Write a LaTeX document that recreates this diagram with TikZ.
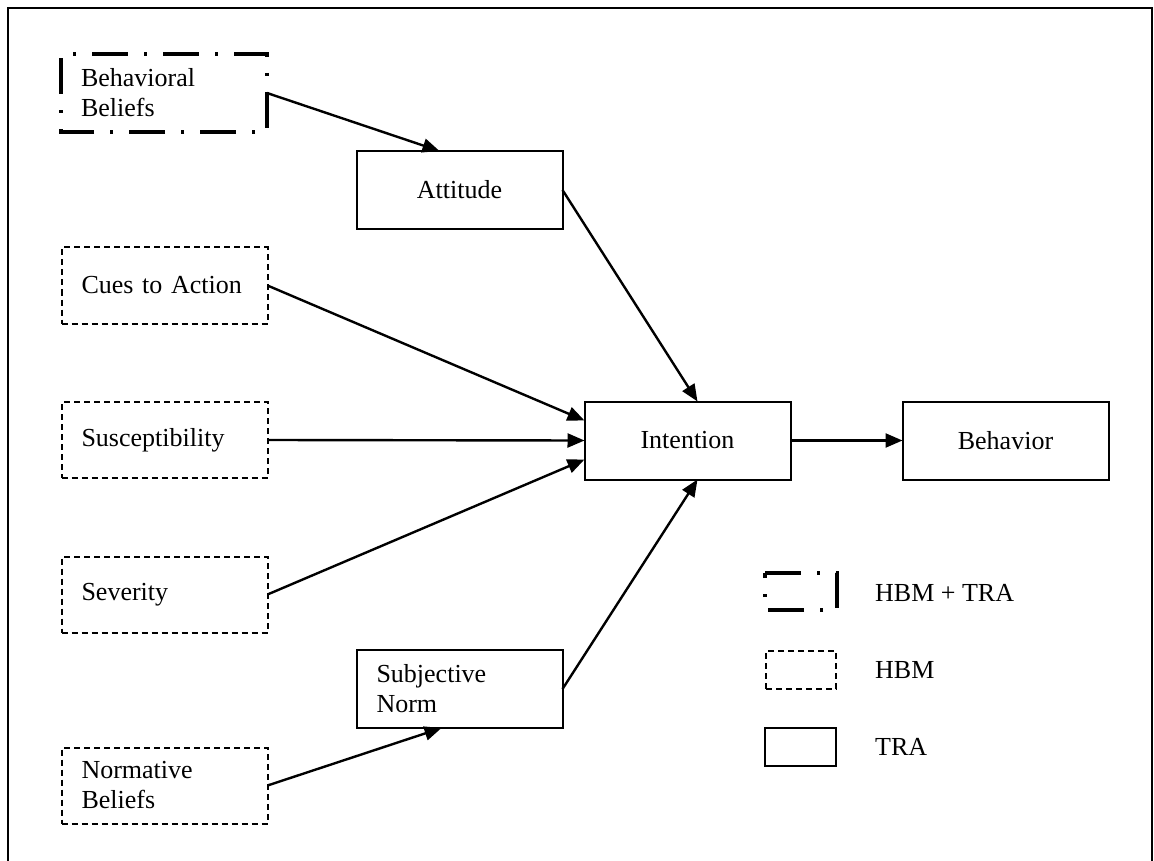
\documentclass[tikz,border=0pt]{standalone}
\usepackage{fontspec}
\setmainfont{Liberation Serif}
\usetikzlibrary{arrows.meta,calc}

\begin{document}
\begin{tikzpicture}[x=1pt,y=-1pt,
  every node/.style={font=\fontsize{26}{30}\selectfont},
  box/.style={rectangle, minimum width=206pt, minimum height=78pt, inner sep=0pt, outer sep=0pt},
  tra/.style={box, draw, line width=2pt},
  hbm/.style={box, draw, line width=2pt, dash pattern=on 6pt off 4pt, minimum height=76pt},
  hbmtra/.style={line width=4pt, dash pattern=on 36pt off 16pt on 3pt off 16pt},
  lefttext/.style={align=left, text width=166pt},
  ctrtext/.style={align=center},
  legendtext/.style={anchor=west, inner sep=0pt},
  link/.style={line width=2.4pt, -{Triangle[length=17pt,width=14pt]}},
]
\useasboundingbox (0,0) rectangle (1154,861);
\clip (0,0) rectangle (1154,861);

% outer frame, open at the bottom edge of the page
\draw[line width=2.5pt] (8,880) -- (8,8) -- (1152,8) -- (1152,880);

% constructs shared by HBM and TRA
\node[box, lefttext] (bb) at (164,93) {Behavioral\\Beliefs};
\draw[hbmtra, dash phase=40pt] (bb.north west) -- (bb.north east) -- (bb.south east) -- (bb.south west) -- cycle;

% TRA constructs
\node[tra, ctrtext] (att) at (459.5,190) {Attitude};
\node[tra, lefttext] (sn) at (459.5,689) {Subjective\\Norm};
\node[tra, ctrtext] (int) at (687.5,440.5) {Intention};
\node[tra, ctrtext] (beh) at (1005.5,440.5) {Behavior};

% HBM constructs
\node[hbm, lefttext] (cues) at (164.5,285.5) {Cues to Action};
\node[hbm, lefttext] (sus) at (164.5,440) {Susceptibility};
\node[hbm, lefttext] (sev) at (164.5,594.5) {Severity};
\node[hbm, lefttext] (nb) at (164.5,785.5) {Normative\\Beliefs};

% paths
\draw[link] (bb.east) -- ([xshift=-20pt]att.north);
\draw[link] (att.east) -- ([xshift=10pt]int.north);
\draw[link] (cues.east) -- ([yshift=20pt]int.west);
\draw[link] (sus.east) -- (int.west);
\draw[link] (sev.east) -- ([yshift=-19pt]int.west);
\draw[link] (sn.east) -- ([xshift=10pt]int.south);
\draw[link] (nb.east) -- ([xshift=-18pt]sn.south);
\draw[link] (int.east) -- (beh.west);

% legend
\node[box, minimum width=72pt, minimum height=37pt] (lg1) at (801,591.5) {};
\draw[hbmtra] (lg1.north west) -- (lg1.north east) -- (lg1.south east) -- (lg1.south west) -- cycle;
\node[hbm, minimum width=70pt, minimum height=38pt] (lg2) at (801,670) {};
\node[tra, minimum width=71pt, minimum height=38pt] (lg3) at (800.5,747) {};
\node[legendtext] (lt1) at (875,593) {HBM + TRA};
\node[legendtext] (lt2) at (875,670) {HBM};
\node[legendtext] (lt3) at (875,747) {TRA};
\end{tikzpicture}
\end{document}
